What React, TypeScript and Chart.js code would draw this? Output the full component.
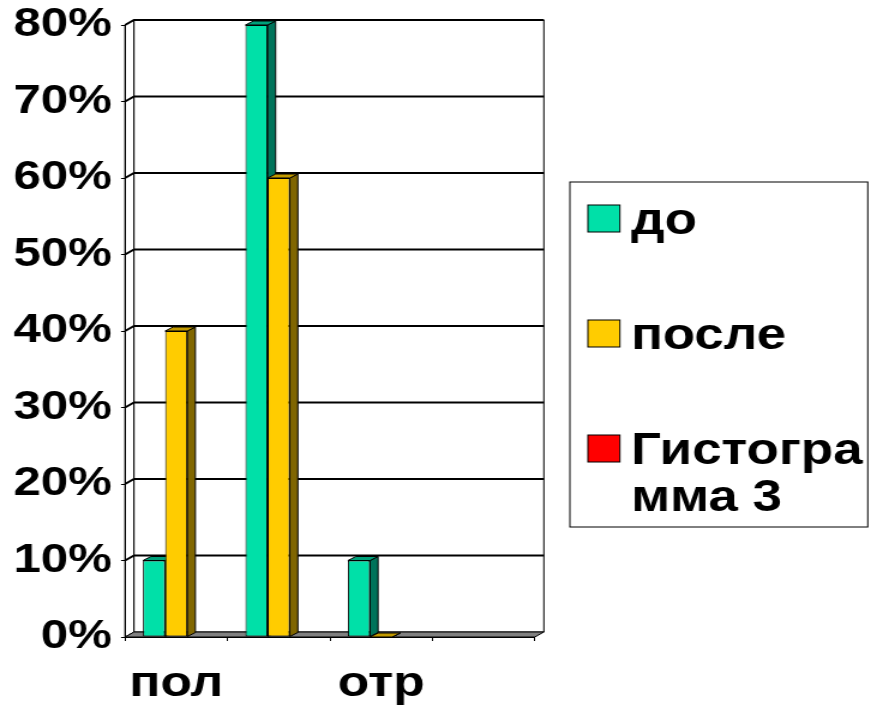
import React, { useEffect, useRef } from "react";
import { Chart, registerables } from "chart.js";

Chart.register(...registerables);

// ---- data ----
const categories = ["пол", "", "отр", ""];
const seriesLabels = ["до", "после", "Гистограмма 3"];
const valuesDo = [10, 80, 10, null];
const valuesPosle = [40, 60, 0, null];
const valuesHist3 = [null, null, null, null];
const yTickValues = [0, 10, 20, 30, 40, 50, 60, 70, 80];
const yTickLabels = ["0%", "10%", "20%", "30%", "40%", "50%", "60%", "70%", "80%"];

// ---- styles ----
const frontColors = ["#00E0A8", "#FFCC00", "#FF0000"];
const sideColors = ["#00735A", "#806600", "#800000"];
const topColors = ["#00A07A", "#C29A00", "#C00000"];

const W = 726;
const H = 707;
const FONT = "'Liberation Sans', Arial, sans-serif";
const LEFT = 104.2;
const RIGHT = 445.8;
const TOP = 25;
const BOTTOM = 637;
const WDX = 7.5;
const WDY = -5;
const BDX = 6.7;
const BDY = -4;

function poly(ctx: CanvasRenderingContext2D, pts: number[][], fill: string | null, stroke: string | null, lw = 1) {
  ctx.beginPath();
  ctx.moveTo(pts[0][0], pts[0][1]);
  for (let i = 1; i < pts.length; i++) ctx.lineTo(pts[i][0], pts[i][1]);
  ctx.closePath();
  if (fill) {
    ctx.fillStyle = fill;
    ctx.fill();
  }
  if (stroke) {
    ctx.lineWidth = lw;
    ctx.strokeStyle = stroke;
    ctx.stroke();
  }
}

const wallsPlugin = {
  id: "walls",
  beforeDraw(chart: any) {
    const { ctx, chartArea } = chart;
    const { left, right, top, bottom } = chartArea;
    const y = chart.scales.y;
    ctx.save();
    ctx.fillStyle = "#fff";
    ctx.fillRect(0, 0, chart.width, chart.height);
    poly(ctx, [[left, top], [left + WDX, top + WDY], [left + WDX, bottom + WDY], [left, bottom]], "#fff", "#000");
    poly(ctx, [[left + WDX, top + WDY], [right + WDX, top + WDY], [right + WDX, bottom + WDY], [left + WDX, bottom + WDY]], "#fff", "#000");
    poly(ctx, [[left, bottom], [right, bottom], [right + WDX, bottom + WDY], [left + WDX, bottom + WDY]], "#808080", "#000");
    ctx.strokeStyle = "#000";
    ctx.lineWidth = 2;
    for (const v of yTickValues) {
      if (v === 0) continue;
      const yf = y.getPixelForValue(v);
      ctx.beginPath();
      ctx.moveTo(left, yf);
      ctx.lineTo(left + WDX, yf + WDY);
      ctx.lineTo(right + WDX, yf + WDY);
      ctx.stroke();
    }
    ctx.restore();
  },
  beforeDatasetsDraw(chart: any) {
    const { ctx } = chart;
    ctx.save();
    chart.data.datasets.forEach((ds: any, i: number) => {
      const meta = chart.getDatasetMeta(i);
      meta.data.forEach((el: any, j: number) => {
        if (ds.data[j] == null) return;
        const { x, y, base, width } = el.getProps(["x", "y", "base", "width"], true);
        const l = x - width / 2;
        const r = x + width / 2;
        poly(ctx, [[r, y], [r + BDX, y + BDY], [r + BDX, base + BDY], [r, base]], sideColors[i], "#000");
        poly(ctx, [[l, y], [l + BDX, y + BDY], [r + BDX, y + BDY], [r, y]], topColors[i], "#000");
      });
    });
    ctx.restore();
  },
  afterDraw(chart: any) {
    const { ctx } = chart;
    ctx.save();
    const bx = 475, by = 182, bw = 248.3, bh = 345;
    ctx.lineWidth = 1;
    ctx.strokeStyle = "#000";
    ctx.strokeRect(bx, by, bw, bh);
    ctx.font = `bold 44px ${FONT}`;
    ctx.textBaseline = "alphabetic";
    ctx.textAlign = "left";
    const maxW = 205;
    seriesLabels.forEach((label, i) => {
      const sqX = 490, sqY = 205 + i * 115;
      ctx.fillStyle = frontColors[i];
      ctx.fillRect(sqX, sqY, 26.7, 27);
      ctx.strokeStyle = "#000";
      ctx.strokeRect(sqX, sqY, 26.7, 27);
      const lines: string[] = [];
      let cur = "";
      for (const ch of label) {
        if (ctx.measureText(cur + ch).width > maxW && cur.length) {
          lines.push(cur);
          cur = ch;
        } else cur += ch;
      }
      lines.push(cur);
      ctx.fillStyle = "#000";
      lines.forEach((ln, k) => {
        ctx.fillText(ln.trim(), 526, sqY + 29 + k * 47);
      });
    });
    ctx.restore();
  },
};

export default function App() {
  const ref = useRef<HTMLCanvasElement | null>(null);
  useEffect(() => {
    const canvas = ref.current!;
    const chart = new Chart(canvas, {
      type: "bar",
      data: {
        labels: categories,
        datasets: [
          { label: seriesLabels[0], data: valuesDo, backgroundColor: frontColors[0], borderColor: "#000", borderWidth: 1, borderSkipped: false },
          { label: seriesLabels[1], data: valuesPosle, backgroundColor: frontColors[1], borderColor: "#000", borderWidth: 1, borderSkipped: false },
          { label: seriesLabels[2], data: valuesHist3, backgroundColor: frontColors[2], borderColor: "#000", borderWidth: 1, borderSkipped: false },
        ],
      },
      options: {
        responsive: false,
        animation: false,
        devicePixelRatio: 1,
        layout: { padding: { top: TOP, right: W - RIGHT, left: 0, bottom: 0 } },
        plugins: { legend: { display: false }, tooltip: { enabled: false } },
        datasets: { bar: { categoryPercentage: 0.65, barPercentage: 1 } },
        scales: {
          x: {
            type: "category",
            offset: true,
            grid: { offset: true, drawOnChartArea: false, drawTicks: true, tickLength: 4, color: "#000", lineWidth: 1 },
            border: { display: true, color: "#000", width: 1 },
            ticks: { color: "#000", font: { family: FONT, size: 43, weight: "bold" }, padding: 17, autoSkip: false, maxRotation: 0, minRotation: 0 },
            afterFit(s: any) {
              s.height = H - BOTTOM;
              s.paddingLeft = 0;
              s.paddingRight = 0;
            },
          },
          y: {
            min: 0,
            max: 80,
            afterBuildTicks(s: any) {
              s.ticks = yTickValues.map((v) => ({ value: v }));
            },
            ticks: {
              color: "#000",
              font: { family: FONT, size: 41, weight: "bold" },
              padding: 7.6,
              callback: (_v: any, i: number) => yTickLabels[i],
            },
            grid: { drawOnChartArea: false, drawTicks: true, tickLength: 3.3, color: "#000", lineWidth: 1 },
            border: { display: true, color: "#000", width: 1 },
            afterFit(s: any) {
              s.width = LEFT;
              s.paddingTop = 0;
              s.paddingBottom = 0;
            },
          },
        },
      },
      plugins: [wallsPlugin],
    } as any);
    canvas.style.width = "871px";
    canvas.style.height = "707px";
    return () => chart.destroy();
  }, []);
  return (
    <div style={{ position: "absolute", left: 0, top: 0, width: 871, height: 707, overflow: "hidden", background: "#fff" }}>
      <canvas ref={ref} width={W} height={H} style={{ display: "block" }} />
    </div>
  );
}
